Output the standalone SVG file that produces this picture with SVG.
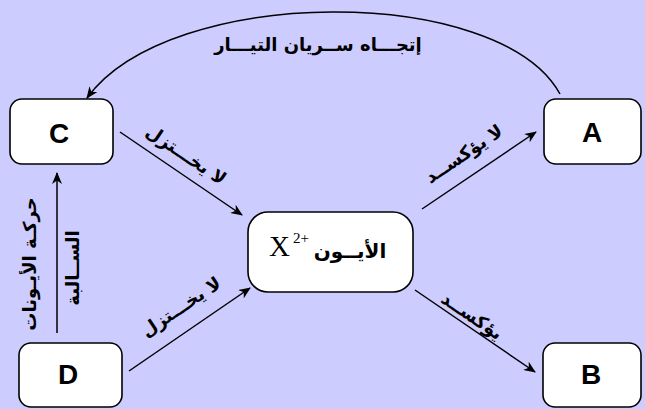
<svg xmlns="http://www.w3.org/2000/svg" width="645" height="409" viewBox="0 0 645 409">
<defs>
<style>
.box{fill:#ffffff;stroke:#000000;stroke-width:1.6}
.lbl{font-family:"Liberation Sans",Arial,sans-serif;font-weight:bold;font-size:28px;text-anchor:middle;fill:#000}
.ar{font-family:"DejaVu Sans",sans-serif;font-weight:bold;font-size:18px;text-anchor:middle;fill:#000}
.ln{fill:none;stroke:#000;stroke-width:1.5}
</style>
<marker id="ah" viewBox="0 0 12 10" refX="11" refY="5" markerWidth="12" markerHeight="10" markerUnits="userSpaceOnUse" orient="auto">
<path d="M0,0 L12,5 L0,10 L3.5,5 Z" fill="#000"/>
</marker>
</defs>
<rect width="645" height="409" fill="#CCCCFF"/>
<g id="connectors">
<path class="ln" d="M560,94 C500,-16 170,-16 87,98" marker-end="url(#ah)"/>
<line class="ln" x1="120" y1="132" x2="242" y2="215" marker-end="url(#ah)"/>
<line class="ln" x1="129" y1="371" x2="250" y2="288" marker-end="url(#ah)"/>
<line class="ln" x1="422" y1="209" x2="536" y2="132" marker-end="url(#ah)"/>
<line class="ln" x1="415" y1="290" x2="535" y2="372" marker-end="url(#ah)"/>
<line class="ln" x1="57" y1="333" x2="57" y2="173" marker-end="url(#ah)"/>
<text class="ar" x="318" y="51">إتجـــاه ســريان التيـــار</text>
<text class="ar" transform="rotate(34 186 155)" x="186" y="161">لا يخـــتزل</text>
<text class="ar" transform="rotate(-34 181 307)" x="181" y="313">لا يخـــتزل</text>
<text class="ar" transform="rotate(-34 464 154)" x="464" y="160">لا يؤكســد</text>
<text class="ar" transform="rotate(34 472 316)" x="472" y="322">يؤكســد</text>
<text class="ar" transform="rotate(-90 30 264)" x="30" y="270">حركـة الأيـونات</text>
<text class="ar" transform="rotate(-90 73 268)" x="73" y="274">الســالبة</text>
</g>
<g id="C">
<rect class="box" x="10" y="99" width="103" height="65" rx="12"/>
<text class="lbl" x="59" y="143">C</text>
</g>
<g id="A">
<rect class="box" x="544" y="99" width="97" height="65" rx="12"/>
<text class="lbl" x="592" y="142">A</text>
</g>
<g id="D">
<rect class="box" x="19" y="343" width="103" height="64" rx="12"/>
<text class="lbl" x="68" y="384">D</text>
</g>
<g id="B">
<rect class="box" x="543" y="343" width="98" height="64" rx="12"/>
<text class="lbl" x="591" y="384">B</text>
</g>
<g id="ion">
<rect class="box" x="248" y="212" width="165" height="80" rx="20"/>
<text x="269" y="256" font-family="Liberation Serif,serif" font-size="29">X</text>
<text x="293" y="243" font-family="Liberation Serif,serif" font-size="15">2+</text>
<text class="ar" x="350" y="258" style="font-size:20px">الأيــون</text>
</g>
</svg>
